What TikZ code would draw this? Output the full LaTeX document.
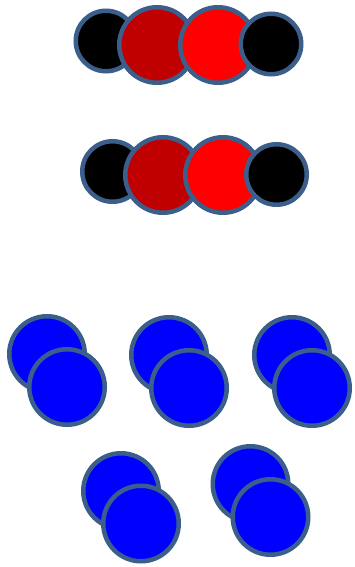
\documentclass[tikz,border=0pt]{standalone}
\definecolor{rim}{HTML}{3B5E8B}
\definecolor{darkred}{HTML}{C00000}
\definecolor{brightred}{HTML}{FF0000}
\definecolor{pureblue}{HTML}{0000FF}
\begin{document}
\begin{tikzpicture}[x=1pt,y=-1pt,
  ball/.style={circle,draw=rim,line width=4.5pt,inner sep=0pt,minimum size=75.5pt},
  smallball/.style={ball,minimum size=60.5pt,fill=black},
  bigred/.style={ball,fill=darkred},
  red/.style={ball,fill=brightred},
  blue/.style={ball,fill=pureblue}]
\useasboundingbox (0,0) rectangle (355,567);
% first chain
\node[smallball] (a1) at (106,41) {};
\node[bigred] (a2) at (157,45) {};
\node[red] (a3) at (218,45) {};
\node[smallball] (a4) at (271,44) {};
% second chain
\node[smallball] (b1) at (112.5,171.5) {};
\node[bigred] (b2) at (163,175) {};
\node[red] (b3) at (223,175) {};
\node[smallball] (b4) at (276.5,174.5) {};
% blue pairs
\node[blue] (p1a) at (47,354) {};
\node[blue] (p1b) at (67,387) {};
\node[blue] (p2a) at (169,355) {};
\node[blue] (p2b) at (189,388) {};
\node[blue] (p3a) at (292,355) {};
\node[blue] (p3b) at (312,388) {};
\node[blue] (p4a) at (121,491) {};
\node[blue] (p4b) at (141,523.5) {};
\node[blue] (p5a) at (250.5,484) {};
\node[blue] (p5b) at (270.5,517) {};
\end{tikzpicture}
\end{document}
